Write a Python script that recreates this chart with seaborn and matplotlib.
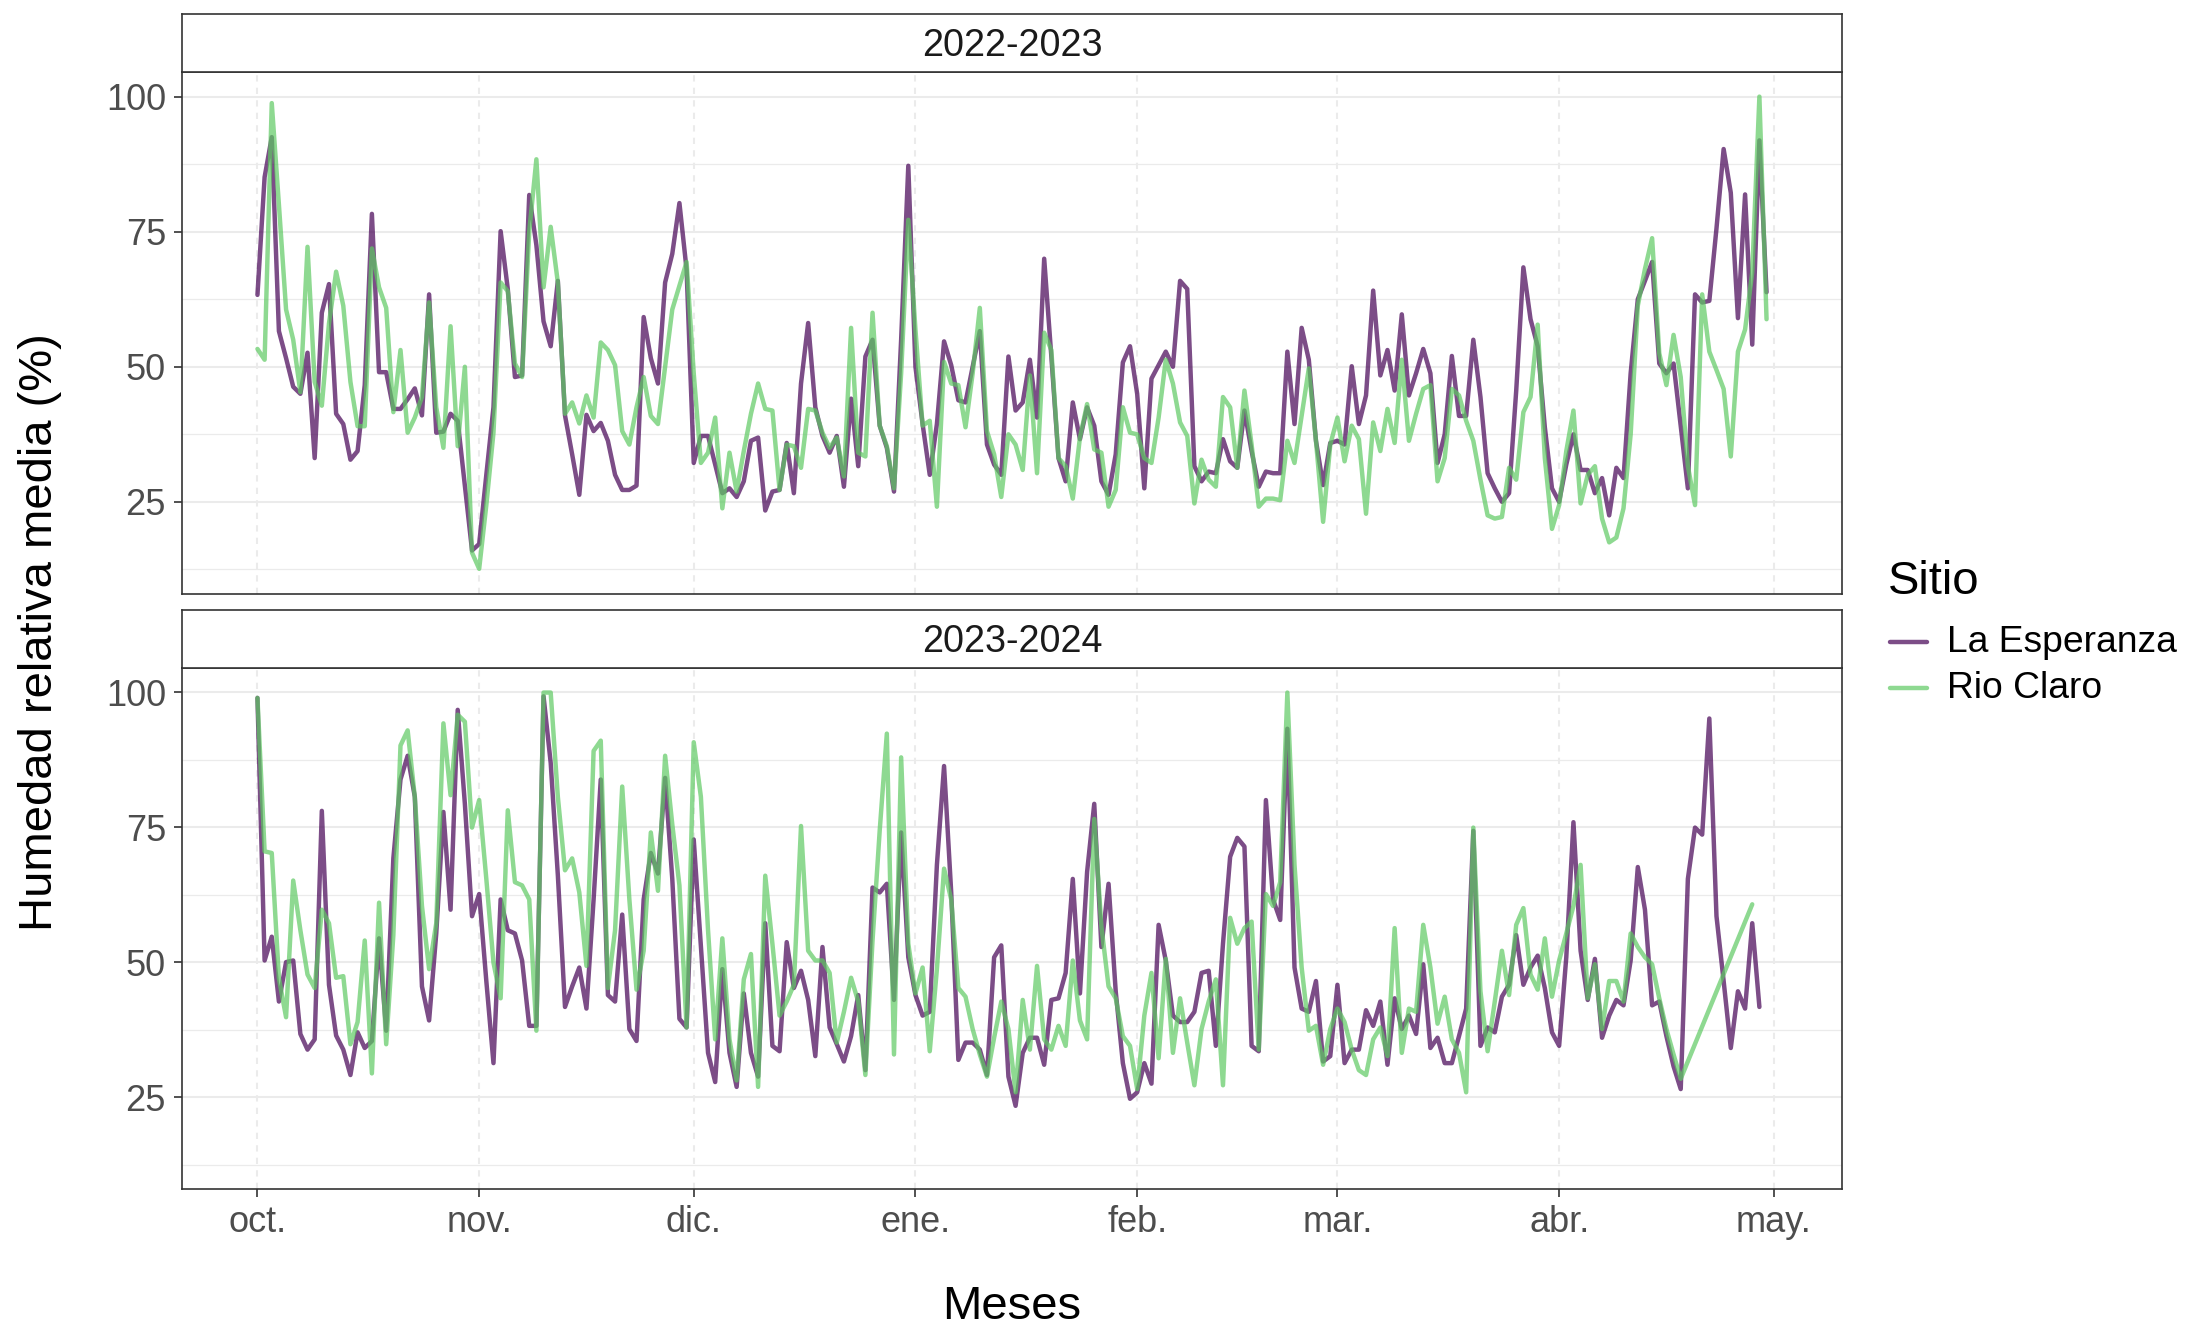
import numpy as np
import pandas as pd
import matplotlib
matplotlib.use("Agg")
import matplotlib.pyplot as plt
from matplotlib.lines import Line2D
import seaborn as sns

# ---------------- data ----------------
seasons = ["2022-2023", "2023-2024"]
sites = ["La Esperanza", "Rio Claro"]
site_colors = ["#440154", "#5ec962"]
month_ticks = [0, 31, 61, 92, 123, 151, 182, 212]
month_labels = ["oct.", "nov.", "dic.", "ene.", "feb.", "mar.", "abr.", "may."]
y_ticks = [25, 50, 75, 100]

# daily mean relative humidity (%), day 0 = 1 October
esperanza_2022 = [
    63.3, 85.1, 92.5, 56.6, 51.6, 46.3, 45.0, 52.6, 33.1, 60.0,
    65.3, 41.3, 39.4, 32.8, 34.4, 46.6, 78.3, 49.0, 49.0, 42.2,
    42.2, 44.0, 46.0, 41.0, 63.4, 37.8, 38.0, 41.3, 40.0, 28.0,
    16.0, 17.2, 30.0, 42.5, 75.1, 64.4, 48.1, 48.4, 81.8, 72.5,
    58.4, 53.8, 65.9, 41.0, 33.8, 26.3, 41.1, 38.1, 39.6, 36.3,
    30.0, 27.2, 27.2, 28.0, 59.2, 51.6, 46.9, 65.6, 70.9, 80.3,
    68.0, 32.2, 37.2, 37.2, 31.9, 26.6, 27.5, 25.9, 28.8, 36.3,
    36.9, 23.4, 26.9, 27.2, 35.9, 26.6, 46.9, 58.1, 42.5, 37.2,
    34.1, 37.2, 27.8, 44.1, 31.6, 51.9, 55.0, 39.1, 35.0, 26.9,
    55.0, 87.2, 50.0, 39.4, 30.0, 39.4, 54.7, 50.3, 43.8, 43.4,
    50.0, 56.6, 35.6, 31.9, 30.0, 51.9, 41.9, 43.4, 51.3, 40.6,
    70.0, 51.9, 33.1, 28.8, 43.4, 36.6, 42.5, 39.1, 28.8, 26.3,
    33.8, 50.8, 53.8, 45.0, 27.5, 47.8, 50.3, 52.8, 50.0, 65.9,
    64.4, 31.6, 28.8, 30.6, 30.3, 36.6, 32.5, 31.3, 41.9, 34.4,
    27.8, 30.6, 30.3, 30.3, 52.8, 39.4, 57.2, 51.3, 36.3, 28.1,
    35.9, 36.3, 35.6, 50.1, 39.4, 44.7, 64.1, 48.4, 53.1, 45.6,
    59.7, 44.7, 48.8, 53.3, 48.8, 32.2, 37.5, 52.0, 40.9, 40.9,
    55.0, 44.4, 30.3, 27.5, 25.0, 26.6, 45.6, 68.4, 58.8, 53.8,
    38.8, 27.5, 25.0, 31.9, 37.5, 30.9, 30.9, 26.6, 29.4, 22.5,
    31.3, 29.4, 48.8, 62.5, 65.9, 69.4, 50.6, 48.8, 50.6, 39.1,
    27.5, 63.4, 61.9, 62.2, 75.6, 90.3, 82.2, 59.0, 81.9, 54.1,
    91.9, 63.8,
]
rioclaro_2022 = [
    53.3, 51.3, 98.8, 80.0, 60.6, 55.0, 45.3, 72.2, 47.2, 42.8,
    58.0, 67.6, 61.3, 47.2, 39.0, 39.0, 71.9, 64.7, 60.9, 41.6,
    53.1, 37.8, 40.6, 44.4, 61.9, 42.5, 35.0, 57.5, 35.3, 50.0,
    15.6, 12.6, 24.4, 37.8, 65.6, 64.0, 50.6, 48.1, 75.0, 88.4,
    64.7, 75.9, 65.6, 41.3, 43.4, 39.5, 44.7, 40.6, 54.5, 53.1,
    50.3, 38.1, 35.6, 42.5, 48.1, 40.9, 39.4, 50.0, 60.6, 65.0,
    69.4, 48.8, 32.2, 34.1, 40.6, 23.8, 34.1, 26.9, 34.4, 41.3,
    46.9, 42.2, 41.9, 27.2, 35.6, 35.3, 31.3, 42.2, 41.9, 37.8,
    35.0, 36.9, 29.7, 57.2, 34.1, 33.4, 60.0, 39.1, 35.3, 27.5,
    48.8, 77.2, 56.9, 39.1, 40.0, 24.1, 50.9, 46.9, 46.6, 38.8,
    48.8, 60.9, 38.1, 33.8, 25.9, 37.5, 35.6, 30.9, 48.4, 30.3,
    56.3, 53.1, 33.1, 31.6, 25.6, 36.9, 43.1, 34.7, 34.1, 24.1,
    27.2, 42.5, 37.8, 37.5, 33.1, 32.2, 40.6, 51.3, 46.9, 39.7,
    37.2, 24.7, 32.8, 29.1, 27.8, 44.4, 42.5, 31.3, 45.6, 35.6,
    24.1, 25.6, 25.6, 25.3, 36.3, 32.2, 40.9, 49.7, 36.3, 21.3,
    35.6, 40.6, 32.5, 39.1, 36.6, 22.8, 39.7, 34.4, 42.2, 35.9,
    51.3, 36.3, 41.3, 45.9, 46.6, 28.8, 33.1, 45.9, 44.7, 40.0,
    36.3, 29.1, 22.5, 21.9, 22.2, 31.3, 29.1, 41.6, 44.4, 57.8,
    33.1, 20.0, 24.4, 34.4, 41.9, 24.7, 30.0, 31.6, 21.9, 17.5,
    18.4, 23.8, 37.5, 61.3, 68.1, 73.8, 52.5, 46.6, 55.9, 48.1,
    31.6, 24.4, 63.4, 52.8, 49.4, 45.9, 33.4, 52.8, 56.9, 67.5,
    100.0, 58.8,
]
esperanza_2023 = [
    98.9, 50.3, 54.7, 42.7, 50.0, 50.3, 36.7, 33.8, 35.7, 78.0,
    45.8, 36.4, 33.8, 29.1, 37.0, 34.1, 35.4, 54.4, 37.3, 69.2,
    83.8, 88.2, 80.6, 45.5, 39.2, 55.3, 77.8, 59.7, 96.7, 79.3,
    58.5, 62.6, 46.5, 31.3, 61.6, 55.9, 55.3, 50.3, 38.2, 38.2,
    99.2, 86.9, 66.1, 41.7, 45.5, 49.0, 41.4, 61.6, 83.8, 43.9,
    42.7, 58.8, 37.6, 35.4, 61.6, 70.2, 66.4, 84.1, 65.4, 39.5,
    37.9, 72.7, 52.8, 33.2, 27.8, 48.7, 33.2, 26.9, 44.2, 33.2,
    28.8, 57.2, 34.5, 33.5, 53.7, 45.2, 48.4, 43.0, 32.6, 52.8,
    37.9, 34.8, 31.6, 36.3, 43.9, 30.0, 63.8, 62.9, 64.5, 43.0,
    74.0, 50.9, 43.9, 40.1, 40.8, 68.0, 86.3, 62.9, 31.9, 35.1,
    35.1, 33.8, 29.1, 50.9, 53.1, 28.8, 23.4, 33.2, 36.0, 36.0,
    31.0, 43.0, 43.3, 48.0, 65.4, 44.2, 66.7, 79.3, 52.8, 64.5,
    44.6, 31.3, 24.7, 25.9, 31.3, 27.5, 56.9, 50.3, 40.1, 38.9,
    38.9, 40.8, 48.0, 48.4, 34.5, 53.4, 69.5, 73.0, 71.4, 34.5,
    33.5, 80.0, 61.6, 57.8, 93.2, 49.0, 41.4, 40.8, 46.5, 31.6,
    32.6, 45.8, 31.3, 33.8, 33.8, 41.1, 38.2, 42.7, 31.0, 43.3,
    37.6, 40.1, 36.7, 49.6, 34.1, 36.0, 31.3, 31.3, 36.3, 41.4,
    74.3, 34.5, 37.9, 37.0, 43.6, 45.8, 55.0, 45.8, 49.0, 51.2,
    45.2, 37.0, 34.5, 50.9, 75.9, 52.1, 43.0, 50.6, 36.0, 40.1,
    43.0, 42.0, 50.3, 67.6, 59.7, 42.0, 42.7, 36.3, 30.7, 26.5,
    65.4, 74.9, 73.6, 95.1, 58.5, 46.5, 34.1, 44.6, 41.4, 57.2,
    41.7,
]
rioclaro_2023 = [
    98.9, 70.5, 70.2, 47.0, 39.8, 65.1, 55.9, 47.7, 45.2, 59.7,
    57.2, 47.1, 47.4, 34.8, 38.9, 54.0, 29.4, 61.0, 34.8, 55.0,
    90.1, 92.9, 80.6, 60.4, 48.7, 57.2, 94.2, 80.9, 95.8, 94.5,
    74.9, 80.0, 65.4, 49.9, 43.3, 78.1, 64.8, 64.2, 61.6, 37.3,
    99.9, 99.9, 80.6, 67.0, 69.2, 62.9, 49.3, 89.1, 91.0, 45.2,
    55.9, 82.5, 61.6, 44.9, 52.1, 74.0, 63.2, 88.2, 75.5, 64.2,
    37.9, 90.7, 80.6, 55.9, 35.7, 54.4, 35.7, 28.1, 46.8, 51.5,
    26.9, 66.0, 53.4, 40.1, 42.7, 45.8, 75.2, 52.1, 50.3, 50.3,
    48.0, 35.1, 40.8, 47.1, 42.7, 29.1, 54.0, 74.3, 92.3, 32.9,
    87.9, 53.4, 44.2, 49.0, 33.5, 48.7, 67.3, 61.6, 45.2, 43.6,
    37.6, 32.9, 28.8, 36.0, 42.7, 37.6, 25.9, 43.0, 33.8, 49.3,
    35.7, 33.8, 38.2, 34.5, 50.3, 39.2, 35.7, 76.5, 56.6, 45.5,
    43.3, 36.3, 34.5, 26.5, 40.1, 48.0, 32.2, 50.6, 33.2, 43.3,
    35.1, 27.2, 37.6, 42.7, 46.8, 27.2, 58.2, 53.4, 56.3, 57.5,
    33.8, 62.6, 60.4, 64.8, 99.9, 68.0, 49.0, 37.3, 38.2, 31.0,
    37.6, 41.4, 38.9, 33.8, 30.0, 29.1, 35.7, 37.9, 32.6, 56.3,
    33.2, 41.4, 40.8, 56.9, 49.0, 38.6, 43.6, 35.7, 33.2, 25.9,
    74.9, 44.6, 33.5, 42.7, 52.1, 43.9, 56.9, 60.0, 47.7, 44.9,
    54.4, 43.6, 50.3, 55.3, 60.4, 68.0, 43.3, 49.6, 37.6, 46.5,
    46.5, 42.7, 55.3, 52.8, 50.9, 49.6, 43.3, 37.6, 32.9, 28.4,
    None, None, None, None, None, None, None, None, None, 60.7,
]

series = {
    ("2022-2023", "La Esperanza"): esperanza_2022,
    ("2022-2023", "Rio Claro"): rioclaro_2022,
    ("2023-2024", "La Esperanza"): esperanza_2023,
    ("2023-2024", "Rio Claro"): rioclaro_2023,
}
frames = []
for (season, site), vals in series.items():
    frames.append(pd.DataFrame({
        "dia": np.arange(len(vals)),
        "hr": pd.to_numeric(pd.Series(vals, dtype="object"), errors="coerce"),
        "Sitio": site,
        "Temporada": season,
    }))
df = pd.concat(frames, ignore_index=True).dropna()

# ---------------- style ----------------
sns.set_theme(style="white")
plt.rcParams["font.family"] = ["Liberation Sans", "DejaVu Sans"]

W_PX, H_PX = 2208, 1344
fig = plt.figure(figsize=(W_PX / 200, H_PX / 200), dpi=200)
fig.patch.set_facecolor("white")

L = 182 / W_PX
R = 1842 / W_PX
# (panel bottom, panel top, strip top) in pixels from top
boxes = [(593.7, 72.3, 14.3), (1189.0, 667.7, 610.0)]
border_col = "#333333"
grid_col = "#EBEBEB"
palette = dict(zip(sites, site_colors))
LW = 1.6

for i, season in enumerate(seasons):
    bpx, tpx, spx = boxes[i]
    ax = fig.add_axes([L, 1 - bpx / H_PX, R - L, (bpx - tpx) / H_PX])
    sub = df[df["Temporada"] == season]
    sns.lineplot(data=sub, x="dia", y="hr", hue="Sitio", hue_order=sites,
                 palette=palette, alpha=0.7, linewidth=LW, ax=ax,
                 legend=False, estimator=None, sort=True)
    ax.set_xlim(-10.55, 221.55)
    ax.set_ylim(8.0, 104.5)
    ax.set_facecolor("white")
    ax.set_axisbelow(True)
    # grid
    ax.set_yticks(y_ticks)
    ax.set_yticks([12.5, 37.5, 62.5, 87.5], minor=True)
    ax.set_xticks(month_ticks)
    ax.yaxis.grid(True, which="major", color=grid_col, linewidth=0.75)
    ax.yaxis.grid(True, which="minor", color=grid_col, linewidth=0.45)
    ax.xaxis.grid(True, which="major", color=grid_col, linewidth=0.75,
                  linestyle=(0, (3, 3)))
    ax.tick_params(axis="y", which="minor", left=False)
    ax.tick_params(axis="y", which="major", left=True, length=2.9, width=0.6,
                   color=border_col, labelsize=13, labelcolor="#4D4D4D", pad=2.9)
    ax.set_yticklabels([str(v) for v in y_ticks])
    if i == 0:
        ax.tick_params(axis="x", bottom=False, labelbottom=False)
    else:
        ax.tick_params(axis="x", bottom=True, length=2.9, width=0.6,
                       color=border_col, labelsize=13, labelcolor="#4D4D4D", pad=3.0)
        ax.set_xticklabels(month_labels)
    ax.set_xlabel("")
    ax.set_ylabel("")
    for s in ax.spines.values():
        s.set_color(border_col)
        s.set_linewidth(0.6)
    # strip
    sax = fig.add_axes([L, 1 - tpx / H_PX, R - L, (tpx - spx) / H_PX])
    sax.set_facecolor("white")
    sax.set_xticks([])
    sax.set_yticks([])
    for s in sax.spines.values():
        s.set_color(border_col)
        s.set_linewidth(0.6)
    sax.text(0.5, 0.45, season, transform=sax.transAxes, ha="center",
             va="center", fontsize=13.6, color="#1A1A1A")

# axis titles
fig.text((L + R) / 2, 1 - 1307 / H_PX, "Meses", ha="center", va="center",
         fontsize=17, color="black")
fig.text(40 / W_PX, 1 - 632 / H_PX, "Humedad relativa media (%)", rotation=90,
         ha="center", va="center", fontsize=17, color="black")

# legend
fig.text(1888 / W_PX, 1 - 582 / H_PX, "Sitio", ha="left", va="center",
         fontsize=17, color="black")
for k, (site, col) in enumerate(zip(sites, site_colors)):
    yk = 1 - (642 + 46 * k) / H_PX
    fig.add_artist(Line2D([1890 / W_PX, 1927 / W_PX], [yk, yk], color=col,
                          alpha=0.7, linewidth=LW, transform=fig.transFigure))
    fig.text(1947 / W_PX, yk, site, ha="left", va="center", fontsize=13.4,
             color="black")

fig.savefig("out.png", dpi=200, facecolor="white")
